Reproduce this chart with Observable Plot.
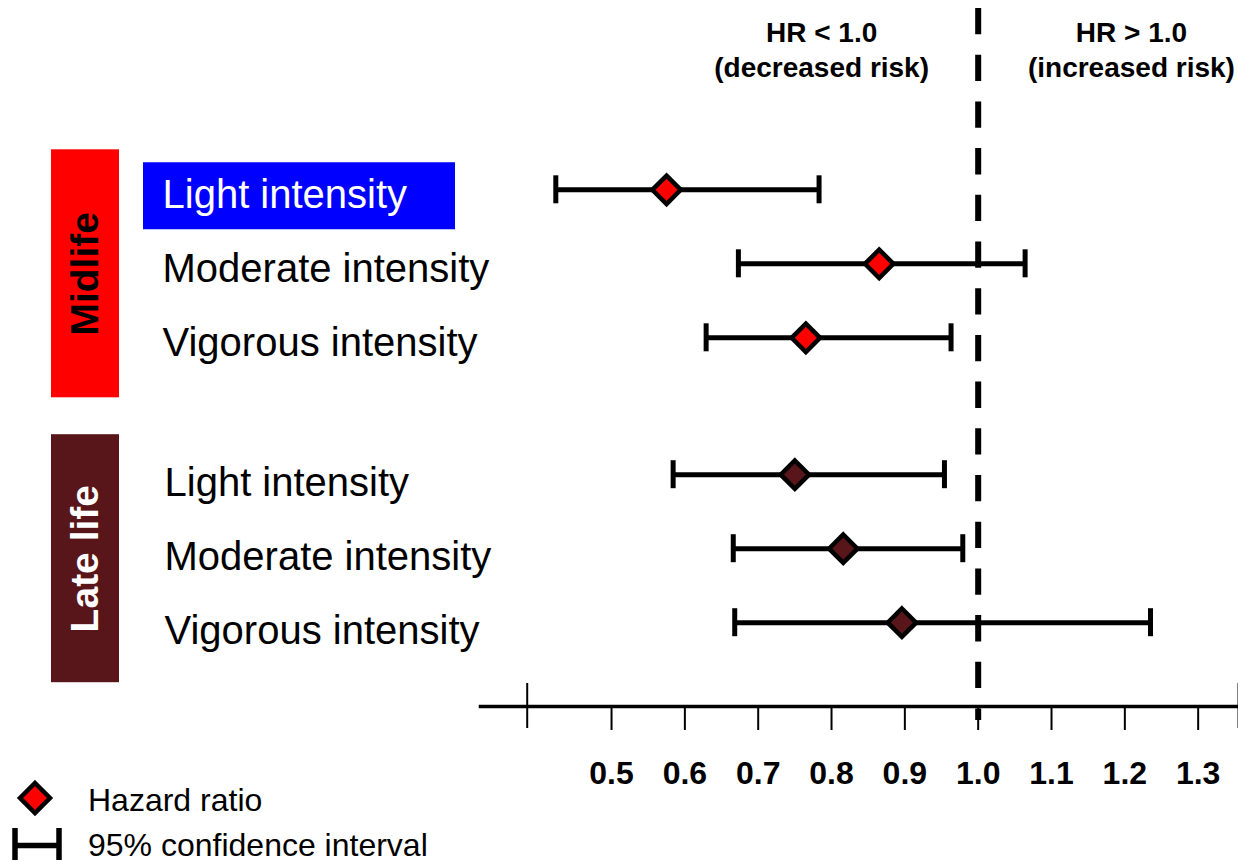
<!DOCTYPE html>
<html>
<head>
<meta charset="utf-8">
<script src="https://cdn.jsdelivr.net/npm/d3@7"></script>
<script src="https://cdn.jsdelivr.net/npm/@observablehq/plot@0.6"></script>
<style>
  body { margin: 0; background: #fff; font-family: "Liberation Sans", Arial, sans-serif; }
  #wrap { width: 1238px; }
  #legend { display: block; }
</style>
</head>
<body>
<div id="wrap"></div>
<script>
// ---- data ----
const groups = ["Midlife", "Late life"];
const groupColors = ["#ff0000", "#58151a"];
const groupTextColors = ["#000000", "#ffffff"];
const intensities = ["Light intensity", "Moderate intensity", "Vigorous intensity"];
const midlifeHR   = [0.575, 0.865, 0.765];
const midlifeLow  = [0.424, 0.673, 0.629];
const midlifeHigh = [0.783, 1.064, 0.963];
const lateHR      = [0.750, 0.816, 0.896];
const lateLow     = [0.584, 0.666, 0.668];
const lateHigh    = [0.954, 0.979, 1.235];
const xTicks = [0.5, 0.6, 0.7, 0.8, 0.9, 1.0, 1.1, 1.2, 1.3];
const axisEnds = [0.385, 1.355];
const referenceHR = [1.0];
const headerLeft = "HR < 1.0\n(decreased risk)";
const headerRight = "HR > 1.0\n(increased risk)";
const legendLabels = ["Hazard ratio", "95% confidence interval"];

// ---- build table ----
const groupGap = 3.85;
const hrs = [midlifeHR, lateHR], lows = [midlifeLow, lateLow], highs = [midlifeHigh, lateHigh];
const rows = [];
groups.forEach((g, gi) => {
  intensities.forEach((label, i) => {
    rows.push({
      group: g, gi, label,
      pos: i + gi * groupGap,
      hr: hrs[gi][i], lo: lows[gi][i], hi: highs[gi][i],
      fill: groupColors[gi],
      highlight: gi === 0 && i === 0
    });
  });
});
const groupData = groups.map((g, gi) => ({
  group: g,
  y1: gi * groupGap, y2: gi * groupGap + 2, mid: gi * groupGap + 1,
  color: groupColors[gi], textColor: groupTextColors[gi]
}));

const font = "'Liberation Sans', Arial, sans-serif";

const plot = Plot.plot({
  width: 1238,
  height: 780,
  marginLeft: 480,
  marginRight: 0,
  marginTop: 0,
  marginBottom: 74,
  x: {domain: [0.3213, 1.355]},
  y: {domain: [0, 5.85], range: [189.3, 622.2], axis: null},
  color: {type: "identity"},
  style: {fontFamily: font, background: "#fff", overflow: "visible", color: "#000"},
  marks: [
    // group bands
    Plot.rect(groupData, {y1: "y1", y2: "y2", fill: "color",
      insetLeft: -429, insetRight: 1119, insetTop: -40, insetBottom: -60}),
    Plot.text(groupData, {y: "mid", text: "group", fill: "textColor", frameAnchor: "left",
      textAnchor: "middle", dx: -395, dy: 10, rotate: -90, fontSize: 39, fontWeight: "bold"}),
    // highlight box
    Plot.ruleY(rows.filter(d => d.highlight), {y: "pos", stroke: "#0000ff", strokeWidth: 67,
      insetLeft: -337, insetRight: 783, dy: 6}),
    // row labels
    Plot.text(rows.filter(d => d.gi === 0), {y: "pos", text: "label", frameAnchor: "left",
      dx: -318, dy: 5, textAnchor: "start", fontSize: 40,
      fill: d => d.highlight ? "#ffffff" : "#000000"}),
    Plot.text(rows.filter(d => d.gi === 1), {y: "pos", text: "label", frameAnchor: "left",
      dx: -316, dy: 8, textAnchor: "start", fontSize: 40, fill: "#000000"}),
    // reference line
    Plot.ruleX(referenceHR, {stroke: "#000", strokeWidth: 6, strokeDasharray: "26.3,20.4",
      insetTop: 8, insetBottom: -14}),
    // headers
    Plot.text([headerLeft], {x: () => 0.7865, frameAnchor: "top", lineAnchor: "top", dy: 16,
      fontSize: 28, fontWeight: "bold", lineHeight: 1.26, fill: "#000"}),
    Plot.text([headerRight], {x: () => 1.209, frameAnchor: "top", lineAnchor: "top", dy: 16,
      fontSize: 28, fontWeight: "bold", lineHeight: 1.26, fill: "#000"}),
    // CI
    Plot.ruleY(rows, {y: "pos", x1: "lo", x2: "hi", stroke: "#000", strokeWidth: 5}),
    Plot.ruleX(rows, {x: "lo", y1: "pos", y2: "pos", stroke: "#000", strokeWidth: 5,
      insetTop: -14, insetBottom: -14}),
    Plot.ruleX(rows, {x: "hi", y1: "pos", y2: "pos", stroke: "#000", strokeWidth: 5,
      insetTop: -14, insetBottom: -14}),
    // HR diamonds
    Plot.dot(rows, {x: "hr", y: "pos", symbol: "diamond2", r: 12.8, fill: "fill",
      stroke: "#000", strokeWidth: 4.5}),
    // axis
    Plot.frame({anchor: "bottom", stroke: "#000", strokeWidth: 3.5}),
    Plot.ruleX(axisEnds, {stroke: "#000", strokeWidth: 2, insetTop: 683, insetBottom: -22}),
    Plot.axisX({ticks: xTicks, tickSize: 24, tickPadding: 31, tickFormat: d => d.toFixed(1),
      fontSize: 32, fontWeight: "bold", stroke: "#000", strokeWidth: 2, label: null, fill: "#000"})
  ]
});

const wrap = document.getElementById("wrap");
wrap.appendChild(plot);

// ---- legend (below the chart) ----
const ns = "http://www.w3.org/2000/svg";
const leg = document.createElementNS(ns, "svg");
leg.setAttribute("id", "legend");
leg.setAttribute("width", 1238);
leg.setAttribute("height", 82);
leg.innerHTML = `
  <polygon points="35,3 50,18 35,33 20,18" fill="#ff0000" stroke="#000" stroke-width="4.5" stroke-linejoin="miter"/>
  <g stroke="#000" stroke-width="5.5">
    <line x1="15" y1="48" x2="15" y2="80"/>
    <line x1="59" y1="48" x2="59" y2="80"/>
    <line x1="15" y1="65.5" x2="59" y2="65.5"/>
  </g>
  <text x="88" y="31" font-family="${font}" font-size="32" fill="#000">${legendLabels[0]}</text>
  <text x="88" y="76" font-family="${font}" font-size="32" fill="#000">${legendLabels[1]}</text>
`;
wrap.appendChild(leg);
</script>
</body>
</html>
